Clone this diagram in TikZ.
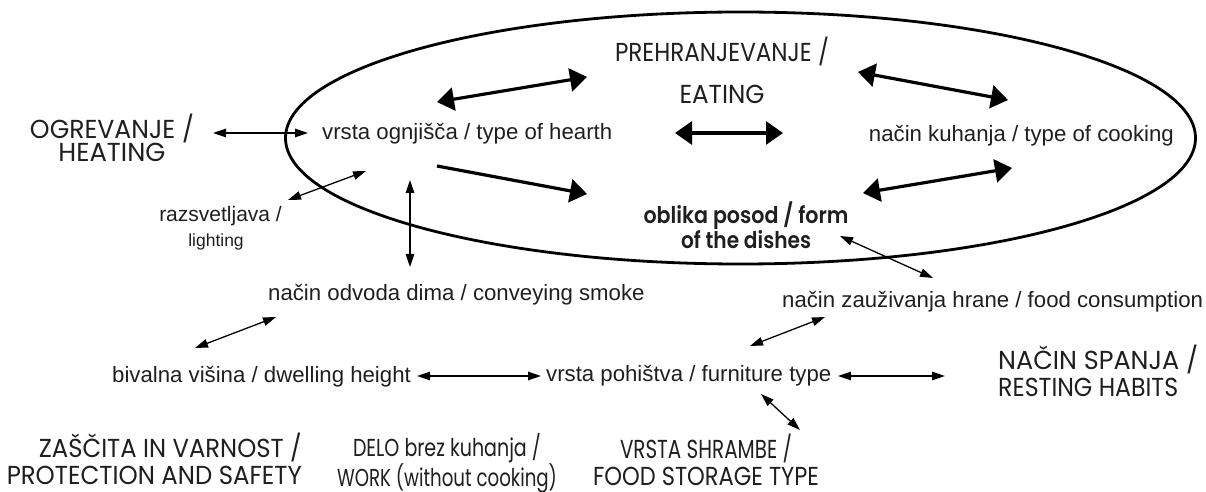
\documentclass[tikz,border=0pt]{standalone}
\usepackage{fontspec}
\usepackage{graphicx}
\setmainfont{Liberation Sans}
\newfontfamily\fut{Poppins}
\newfontfamily\futb{Poppins}[UprightFont=* SemiBold]
\usetikzlibrary{arrows.meta,shapes.geometric}
% stretch one line horizontally to a given width
\newlength\fitlen
\newcommand\fitw[2]{\settowidth{\fitlen}{#2}\pgfmathsetmacro\fitfac{#1/\fitlen}\scalebox{\fitfac}[1]{#2}}
\begin{document}
\begin{tikzpicture}[x=1bp,y=-1bp,
  lbl/.style={font=\fontsize{22.2bp}{26bp}\selectfont, inner sep=0pt, text=black!88},
  caps/.style={font=\fut\fontsize{26bp}{26bp}\selectfont, inner sep=0pt, align=center, text=black!88},
  thinarr/.style={line width=1.3bp, {Triangle[length=13bp,width=8.5bp]}-{Triangle[length=13bp,width=8.5bp]}},
  thickarr/.style={line width=3.2bp, {Triangle[length=17bp,width=23bp]}-{Triangle[length=17bp,width=23bp]}},
  thickone/.style={line width=3.2bp, -{Triangle[length=17bp,width=23bp]}}
]
\useasboundingbox (0,0) rectangle (1206,492);
\fill[white] (0,0) rectangle (1206,492);

% big oval
\node[ellipse, draw, line width=2.8bp, inner sep=0pt, minimum width=910bp, minimum height=252bp] (oval) at (740.5,138) {};

% texts
\node[caps, font=\fut\fontsize{26bp}{23bp}\selectfont] (heat) at (112,138)
  {\fitw{164bp}{OGREVANJE /}\\\fitw{107bp}{HEATING}};
\node[lbl, anchor=west] (hearth) at (322,134) {vrsta ognjišča / type of hearth};
\node[caps, font=\fut\fontsize{26bp}{42bp}\selectfont] (eat) at (722,70)
  {\fitw{214bp}{PREHRANJEVANJE /}\\\fitw{85bp}{EATING}};
\node[lbl, anchor=east] (cook) at (1174,136) {način kuhanja / type of cooking};
\node[caps, font=\futb\fontsize{23bp}{24bp}\selectfont] (dish) at (746,225)
  {\fitw{205bp}{oblika posod / form}\\\fitw{130bp}{of the dishes}};
\node[lbl, font=\fontsize{21bp}{24bp}\selectfont, anchor=east] (light) at (282,216) {razsvetljava /};
\node[lbl, font=\fontsize{17.5bp}{20bp}\selectfont] (light2) at (216,242) {lighting};
\node[lbl, anchor=west] (smoke) at (268,295) {način odvoda dima / conveying smoke};
\node[lbl, anchor=west] (consume) at (782,302) {način zauživanja hrane / food consumption};
\node[lbl, anchor=west] (dwell) at (112,377) {bivalna višina / dwelling height};
\node[lbl, anchor=west] (furn) at (546,376) {vrsta pohištva / furniture type};
\node[caps, font=\fut\fontsize{26bp}{27bp}\selectfont, align=left, anchor=west] (sleep) at (998,371)
  {\fitw{200bp}{NAČIN SPANJA /}\\\fitw{180bp}{RESTING HABITS}};
\node[caps, font=\fut\fontsize{26bp}{27bp}\selectfont, align=right, anchor=east] (protect) at (302,459)
  {\fitw{263bp}{ZAŠČITA IN VARNOST /}\\\fitw{295bp}{PROTECTION AND SAFETY}};
\node[caps, font=\fut\fontsize{24.5bp}{27bp}\selectfont] (work) at (447,463)
  {\fitw{188bp}{DELO brez kuhanja /}\\\fitw{220bp}{WORK (without cooking)}};
\node[caps, font=\fut\fontsize{26bp}{27bp}\selectfont] (store) at (706,460)
  {\fitw{172bp}{VRSTA SHRAMBE /}\\\fitw{226bp}{FOOD STORAGE TYPE}};

% arrow end points
\coordinate (a1) at (213,133); \coordinate (a2) at (308,133);
\coordinate (b1) at (437,102); \coordinate (b2) at (587,77);
\coordinate (c1) at (675,133); \coordinate (c2) at (783,133);
\coordinate (d1) at (858,72);  \coordinate (d2) at (1008,100);
\coordinate (e1) at (437,166); \coordinate (e2) at (587,194);
\coordinate (f1) at (863,193); \coordinate (f2) at (1012,168);
\coordinate (g1) at (288,200); \coordinate (g2) at (366,171);
\coordinate (h1) at (410,180); \coordinate (h2) at (410,267);
\coordinate (i1) at (840,236); \coordinate (i2) at (933,278);
\coordinate (j1) at (195,348); \coordinate (j2) at (276,317);
\coordinate (k1) at (417,376); \coordinate (k2) at (541,376);
\coordinate (l1) at (750,346); \coordinate (l2) at (825,317);
\coordinate (m1) at (838,376); \coordinate (m2) at (945,376);
\coordinate (n1) at (761,394); \coordinate (n2) at (800,430);

\draw[thinarr] (a1) -- (a2);
\draw[thickarr] (b1) -- (b2);
\draw[thickarr] (c1) -- (c2);
\draw[thickarr] (d1) -- (d2);
\draw[thickone] (e1) -- (e2);
\draw[thickarr] (f1) -- (f2);
\draw[thinarr] (g1) -- (g2);
\draw[thinarr] (h1) -- (h2);
\draw[thinarr] (i1) -- (i2);
\draw[thinarr] (j1) -- (j2);
\draw[thinarr] (k1) -- (k2);
\draw[thinarr] (l1) -- (l2);
\draw[thinarr] (m1) -- (m2);
\draw[thinarr] (n1) -- (n2);
\end{tikzpicture}
\end{document}
